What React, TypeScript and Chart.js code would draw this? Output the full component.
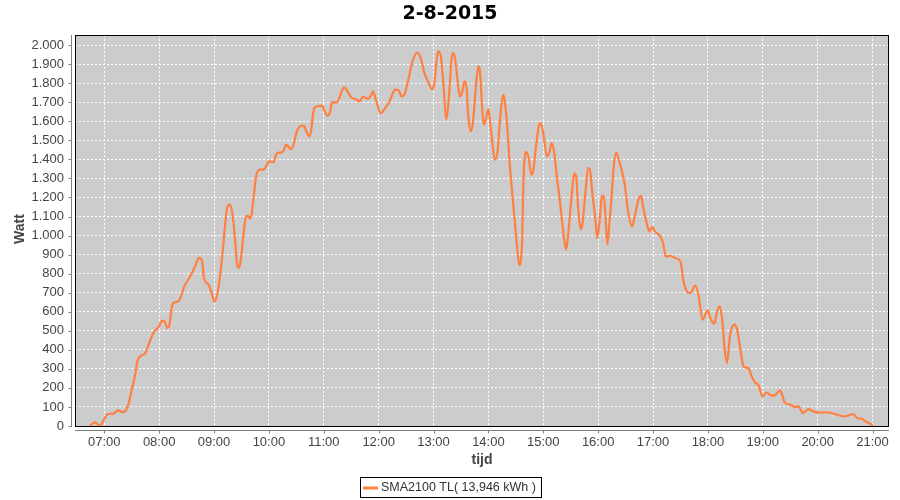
import React, { useEffect, useRef } from "react";
import { Chart, registerables } from "chart.js";

Chart.register(...registerables);

const TITLE = "2-8-2015";
const Y_TITLE = "Watt";
const X_TITLE = "tijd";
const SERIES_LABEL = "SMA2100 TL( 13,946 kWh )";

const HOUR_TICKS = [
  "07:00", "08:00", "09:00", "10:00", "11:00", "12:00", "13:00", "14:00",
  "15:00", "16:00", "17:00", "18:00", "19:00", "20:00", "21:00",
];
const Y_TICKS = [
  0, 100, 200, 300, 400, 500, 600, 700, 800, 900, 1000,
  1100, 1200, 1300, 1400, 1500, 1600, 1700, 1800, 1900, 2000,
];
const X_MIN = "06:28";
const X_MAX = "21:18";
const Y_MAX = 2053;

const TIMES = [
  "06:44", "06:50", "06:55", "07:00", "07:04", "07:10", "07:15", "07:20", "07:24", "07:27",
  "07:30", "07:34", "07:36", "07:39", "07:45", "07:48", "07:54", "08:00", "08:03", "08:06",
  "08:09", "08:11", "08:14", "08:17", "08:21", "08:28", "08:34", "08:39", "08:44", "08:47",
  "08:49", "08:54", "08:58", "09:00", "09:03", "09:07", "09:10", "09:14", "09:17", "09:20",
  "09:23", "09:25", "09:27", "09:29", "09:32", "09:35", "09:37", "09:39", "09:41", "09:43",
  "09:46", "09:50", "09:54", "09:58", "10:00", "10:05", "10:09", "10:15", "10:19", "10:24",
  "10:27", "10:30", "10:34", "10:38", "10:41", "10:44", "10:46", "10:49", "10:51", "10:58",
  "11:00", "11:04", "11:07", "11:09", "11:14", "11:17", "11:20", "11:22", "11:26", "11:30",
  "11:35", "11:39", "11:43", "11:48", "11:51", "11:54", "11:57", "12:02", "12:07", "12:12",
  "12:18", "12:22", "12:25", "12:28", "12:32", "12:37", "12:42", "12:46", "12:50", "12:54",
  "12:58", "13:01", "13:03", "13:05", "13:08", "13:11", "13:14", "13:17", "13:20", "13:22",
  "13:24", "13:27", "13:29", "13:31", "13:34", "13:36", "13:38", "13:41", "13:43", "13:47",
  "13:49", "13:51", "13:53", "13:55", "13:57", "14:00", "14:01", "14:04", "14:07", "14:10",
  "14:13", "14:16", "14:17", "14:20", "14:23", "14:27", "14:30", "14:34", "14:37", "14:38",
  "14:41", "14:44", "14:47", "14:49", "14:52", "14:55", "14:57", "15:00", "15:04", "15:07",
  "15:09", "15:12", "15:15", "15:18", "15:22", "15:25", "15:27", "15:30", "15:34", "15:36",
  "15:38", "15:41", "15:43", "15:46", "15:49", "15:51", "15:54", "15:57", "15:59", "16:02",
  "16:04", "16:06", "16:08", "16:10", "16:12", "16:15", "16:17", "16:20", "16:22", "16:26",
  "16:29", "16:33", "16:37", "16:40", "16:44", "16:47", "16:49", "16:53", "16:56", "16:59",
  "17:02", "17:08", "17:11", "17:14", "17:19", "17:24", "17:30", "17:33", "17:37", "17:41",
  "17:46", "17:50", "17:54", "18:00", "18:02", "18:07", "18:10", "18:13", "18:16", "18:18",
  "18:21", "18:24", "18:29", "18:32", "18:35", "18:39", "18:44", "18:48", "18:52", "18:55",
  "19:00", "19:04", "19:10", "19:14", "19:19", "19:24", "19:30", "19:35", "19:39", "19:44",
  "19:50", "19:55", "20:03", "20:12", "20:19", "20:28", "20:34", "20:39", "20:43", "20:48",
  "20:54", "20:59", "21:00",
];

const WATTS = [
  0, 19, 0, 37, 63, 65, 82, 73, 85, 124,
  190, 275, 336, 365, 383, 421, 491, 523, 553, 549,
  514, 526, 628, 649, 654, 737, 786, 835, 884, 864,
  777, 742, 689, 654, 680, 803, 943, 1136, 1162, 1118,
  978, 856, 829, 864, 995, 1100, 1104, 1090, 1109, 1188,
  1310, 1346, 1346, 1372, 1389, 1386, 1433, 1438, 1477, 1454,
  1477, 1538, 1573, 1577, 1547, 1520, 1547, 1661, 1675, 1682,
  1664, 1629, 1652, 1699, 1699, 1722, 1762, 1778, 1757, 1725,
  1717, 1704, 1730, 1718, 1730, 1757, 1713, 1643, 1669, 1704,
  1766, 1762, 1730, 1739, 1809, 1914, 1961, 1932, 1853, 1809,
  1769, 1801, 1906, 1967, 1940, 1783, 1608, 1739, 1940, 1958,
  1914, 1783, 1730, 1748, 1809, 1783, 1625, 1547, 1591, 1818,
  1888, 1853, 1678, 1582, 1608, 1664, 1634, 1503, 1398, 1442,
  1625, 1739, 1730, 1608, 1398, 1171, 1013, 845, 995, 1240,
  1440, 1407, 1319, 1337, 1468, 1573, 1591, 1538, 1415, 1442,
  1486, 1433, 1302, 1188, 1013, 926, 995, 1153, 1325, 1310,
  1153, 1035, 1066, 1223, 1354, 1346, 1205, 1083, 987, 1100,
  1205, 1210, 1100, 955, 1048, 1223, 1363, 1435, 1407, 1337,
  1270, 1118, 1048, 1100, 1188, 1209, 1153, 1066, 1022, 1045,
  1022, 995, 961, 890, 894, 882, 864, 768, 707, 698,
  737, 680, 558, 607, 575, 537, 602, 628, 541, 418,
  331, 470, 532, 506, 418, 313, 304, 260, 226, 217,
  155, 176, 159, 164, 187, 124, 112, 100, 103, 68,
  89, 77, 71, 71, 63, 50, 56, 63, 42, 38,
  19, 7, 0,
];

const LINE_COLOR = "#FF8040";
const PLOT_BG = "#CCCCCC";
const AXIS_GRAY = "#808080";
const TEXT_GRAY = "#444444";

const toMin = (s: string) => {
  const [h, m] = s.split(":").map(Number);
  return h * 60 + m;
};
const fmtMin = (v: number) => {
  const h = Math.floor(v / 60);
  const m = Math.round(v - h * 60);
  return String(h).padStart(2, "0") + ":" + String(m).padStart(2, "0");
};
const fmtThousands = (v: number) => {
  const s = String(Math.round(v));
  return s.length > 3 ? s.slice(0, -3) + "." + s.slice(-3) : s;
};

const decorPlugin = {
  id: "decor",
  beforeDraw(chart: any) {
    const { ctx, chartArea: a } = chart;
    ctx.save();
    ctx.fillStyle = "#ffffff";
    ctx.fillRect(0, 0, chart.width, chart.height);
    ctx.fillStyle = PLOT_BG;
    ctx.fillRect(a.left, a.top, a.right - a.left, a.bottom - a.top);
    ctx.restore();
  },
  afterDraw(chart: any) {
    const { ctx, chartArea: a, scales } = chart;
    const xs = scales.x;
    const ys = scales.y;
    ctx.save();
    // plot outline
    ctx.strokeStyle = "#000000";
    ctx.lineWidth = 1;
    ctx.setLineDash([]);
    ctx.strokeRect(a.left + 0.5, a.top + 0.5, a.right - a.left - 1, a.bottom - a.top);

    // axis lines (offset 4px)
    ctx.strokeStyle = AXIS_GRAY;
    const axX = a.left - 3.5;
    const axY = a.bottom + 4.5;
    ctx.beginPath();
    ctx.moveTo(axX, a.top);
    ctx.lineTo(axX, a.bottom + 1);
    ctx.moveTo(a.left, axY);
    ctx.lineTo(a.right, axY);
    ctx.stroke();
    // tick marks
    ctx.beginPath();
    ys.ticks.forEach((t: any) => {
      const py = Math.round(ys.getPixelForValue(t.value)) + 0.5;
      ctx.moveTo(axX - 3, py);
      ctx.lineTo(axX, py);
    });
    xs.ticks.forEach((t: any) => {
      const px = Math.round(xs.getPixelForValue(t.value)) + 0.5;
      ctx.moveTo(px, axY);
      ctx.lineTo(px, axY + 3);
    });
    ctx.stroke();

    // title
    ctx.fillStyle = "#000000";
    ctx.font = 'bold 19px "DejaVu Sans"';
    ctx.textAlign = "center";
    ctx.textBaseline = "middle";
    ctx.fillText(TITLE, chart.width / 2, 14);

    // axis titles
    ctx.fillStyle = TEXT_GRAY;
    ctx.font = 'bold 14px "Liberation Sans"';
    ctx.fillText(X_TITLE, (a.left + a.right) / 2, 460);
    ctx.save();
    ctx.translate(20, 229);
    ctx.rotate(-Math.PI / 2);
    ctx.fillText(Y_TITLE, 0, 0);
    ctx.restore();

    // legend
    ctx.font = '12.5px "Liberation Sans"';
    const tw = ctx.measureText(SERIES_LABEL).width;
    const w = Math.round(3 + 15 + 3 + tw + 5);
    const x0 = Math.round(chart.width / 2 - w / 2);
    ctx.strokeStyle = "#000000";
    ctx.lineWidth = 1;
    ctx.strokeRect(x0 + 0.5, 477.5, w, 20);
    ctx.strokeStyle = LINE_COLOR;
    ctx.lineWidth = 3;
    ctx.beginPath();
    ctx.moveTo(x0 + 3, 488);
    ctx.lineTo(x0 + 18, 488);
    ctx.stroke();
    ctx.fillStyle = "#333333";
    ctx.textAlign = "left";
    ctx.textBaseline = "middle";
    ctx.fillText(SERIES_LABEL, x0 + 21, 488);
    ctx.restore();
  },
};

export default function App() {
  const canvasRef = useRef<HTMLCanvasElement | null>(null);

  useEffect(() => {
    document.body.style.margin = "0";
    const canvas = canvasRef.current;
    if (!canvas) return;
    const points = TIMES.map((t, i) => ({ x: toMin(t), y: WATTS[i] }));
    const chart = new Chart(canvas, {
      type: "line",
      data: {
        datasets: [
          {
            label: SERIES_LABEL,
            data: points,
            borderColor: LINE_COLOR,
            backgroundColor: LINE_COLOR,
            borderWidth: 2.2,
            pointRadius: 0,
            cubicInterpolationMode: "monotone",
            fill: false,
          },
        ],
      },
      options: {
        responsive: false,
        animation: false,
        devicePixelRatio: 1,
        layout: { padding: { left: 0, top: 35, right: 11, bottom: 0 } },
        plugins: {
          legend: { display: false },
          title: { display: false },
          tooltip: { enabled: false },
        },
        scales: {
          x: {
            type: "linear",
            min: toMin(X_MIN),
            max: toMin(X_MAX),
            afterBuildTicks: (s: any) => {
              s.ticks = HOUR_TICKS.map((t) => ({ value: toMin(t) }));
            },
            afterFit: (s: any) => {
              s.height = 74;
            },
            grid: { color: "#ffffff", lineWidth: 1, drawTicks: false },
            border: { display: false, dash: [2, 2] },
            ticks: {
              autoSkip: false,
              maxRotation: 0,
              padding: 9,
              color: TEXT_GRAY,
              font: { family: "Liberation Sans", size: 13 },
              callback: (v: any) => fmtMin(Number(v)),
            },
          },
          y: {
            type: "linear",
            min: 0,
            max: Y_MAX,
            afterBuildTicks: (s: any) => {
              s.ticks = Y_TICKS.map((v) => ({ value: v }));
            },
            afterFit: (s: any) => {
              s.width = 75;
            },
            grid: { color: "#ffffff", lineWidth: 1, drawTicks: false },
            border: { display: false, dash: [2, 2] },
            ticks: {
              autoSkip: false,
              padding: 11,
              color: TEXT_GRAY,
              font: { family: "Liberation Sans", size: 13 },
              callback: (v: any) => fmtThousands(Number(v)),
            },
          },
        },
      },
      plugins: [decorPlugin],
    } as any);
    return () => chart.destroy();
  }, []);

  return (
    <div style={{ position: "fixed", left: 0, top: 0, width: 900, height: 500 }}>
      <canvas ref={canvasRef} width={900} height={500} style={{ display: "block" }} />
    </div>
  );
}
